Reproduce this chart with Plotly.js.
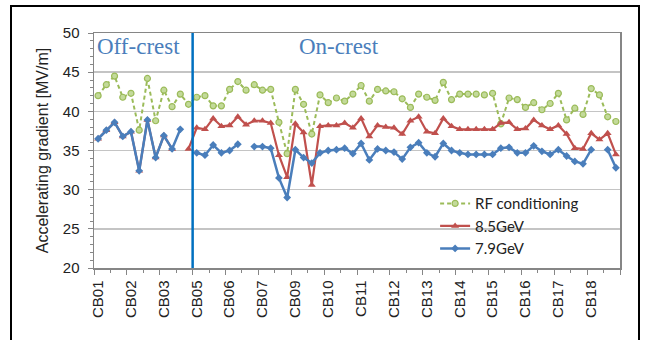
<!DOCTYPE html>
<html>
<head>
<meta charset="utf-8">
<script src="https://cdn.plot.ly/plotly-3.0.1.min.js"></script>
<style>
  html, body { margin:0; padding:0; background:#fff; }
  #wrap { position:relative; width:651px; height:340px; overflow:hidden; }
  #chart { width:651px; height:340px; }
  #frame { position:absolute; left:10px; top:5px; width:626px; height:400px; border:2px solid #000; pointer-events:none; }
</style>
</head>
<body>
<div id="wrap">
  <div id="chart"></div>
  <div id="frame"></div>
</div>
<script>
// Cryomodule labels (one label per group of 4 cavities)
const moduleLabels = ["CB01","CB02","CB03","CB05","CB06","CB07","CB09","CB10",
                      "CB11","CB12","CB13","CB14","CB15","CB16","CB17","CB18"];
const cavitiesPerLabel = 4;
const onCrestStartIndex = 11.5; // boundary between off-crest and on-crest data

const rfConditioning = [42.0,43.4,44.5,41.8,42.3,37.6,44.2,38.8,42.7,40.6,42.2,40.9,41.8,42.0,40.7,40.7,
  42.8,43.8,42.7,43.4,42.7,42.8,38.6,34.6,42.8,40.9,37.1,42.1,41.1,41.7,41.3,42.2,
  43.3,41.3,42.8,42.6,42.5,41.6,40.5,42.2,41.8,41.4,43.7,41.5,42.2,42.2,42.2,42.1,
  42.3,38.4,41.7,41.5,40.5,41.1,40.2,41.0,42.3,38.9,40.4,39.6,42.9,42.1,39.3,38.7];

const gev85 = [36.5,37.6,38.6,36.8,37.4,32.4,38.9,34.1,36.9,35.2,null,35.2,37.9,37.7,39.1,38.1,
  38.2,39.3,38.3,38.8,38.8,38.5,34.4,31.6,38.4,37.3,30.6,38.1,38.2,38.2,38.5,37.9,
  39.1,36.8,38.2,38.0,37.9,37.1,38.8,39.3,37.4,37.2,39.1,38.1,37.7,37.7,37.7,37.7,
  37.7,38.5,38.6,37.7,37.8,38.9,38.2,37.7,38.2,37.1,35.3,35.2,37.2,36.4,37.2,34.5];

const gev79 = [36.5,37.6,38.6,36.8,37.4,32.4,38.9,34.1,36.9,35.2,37.7,null,34.7,34.4,35.7,34.7,
  35.0,35.8,null,35.5,35.5,35.3,31.5,29.0,35.1,34.1,33.4,34.7,35.0,35.1,35.3,34.6,
  35.9,33.8,35.2,35.0,34.8,33.9,35.4,36.0,34.7,34.2,35.9,35.0,34.7,34.5,34.5,34.5,
  34.5,35.3,35.4,34.7,34.7,35.6,34.9,34.5,35.1,34.3,33.6,33.3,35.1,null,35.1,32.8];

const idx = rfConditioning.map((_, i) => i);
const nCav = rfConditioning.length;
const tickVals = [];
const tickText = [];
for (let k = 0; k <= moduleLabels.length; k++) {
  tickVals.push(k * cavitiesPerLabel - 0.5);
  tickText.push(k < moduleLabels.length ? moduleLabels[k] : "");
}

const traces = [
  { x: idx, y: rfConditioning, name: "RF conditioning", type: "scatter", mode: "lines+markers",
    line: { color: "#9bbb59", width: 2, dash: "4px,3px" },
    marker: { symbol: "circle", size: 6, color: "#c3da9a", line: { color: "#9bbb59", width: 1.2 } } },
  { x: idx, y: gev85, name: "8.5GeV", type: "scatter", mode: "lines+markers",
    line: { color: "#c0504d", width: 2.2 },
    marker: { symbol: "triangle-up", size: 7, color: "#c0504d" } },
  { x: idx, y: gev79, name: "7.9GeV", type: "scatter", mode: "lines+markers",
    line: { color: "#4a7ebb", width: 2.5 },
    marker: { symbol: "diamond", size: 6, color: "#4a7ebb" } }
];

const axisGrey = "#868686";
const layout = {
  width: 651, height: 340,
  margin: { l: 94, r: 31, t: 33, b: 72 },
  paper_bgcolor: "#fff", plot_bgcolor: "#fff",
  showlegend: true,
  font: { family: "Liberation Sans, Arial, sans-serif", color: "#222" },
  xaxis: {
    range: [-0.5, nCav - 0.5],
    tickmode: "array", tickvals: tickVals, ticktext: tickText,
    tickangle: -90, ticklabelshift: 4,
    ticks: "outside", ticklen: 5, tickcolor: axisGrey, tickwidth: 1,
    tickfont: { size: 15, family: "Liberation Sans, Arial, sans-serif", color: "#222" },
    showgrid: false, zeroline: false,
    showline: true, linecolor: axisGrey, linewidth: 1.5, mirror: true,
    minor: { tickmode: "linear", tick0: -0.5, dtick: 2, ticks: "outside", ticklen: 3, tickcolor: axisGrey, showgrid: false }
  },
  yaxis: {
    range: [20, 50], tick0: 20, dtick: 5,
    ticks: "outside", ticklen: 5, tickcolor: axisGrey, ticklabelstandoff: 5,
    tickfont: { size: 15, family: "Liberation Sans, Arial, sans-serif", color: "#222" },
    showgrid: true, gridcolor: "#c4c4c4", gridwidth: 1.5, zeroline: false,
    showline: true, linecolor: axisGrey, linewidth: 1.5, mirror: true,
    minor: { dtick: 1, ticks: "outside", ticklen: 3, tickcolor: axisGrey, showgrid: false },
    title: { text: "Accelerating gradient [MV/m]", standoff: 10,
             font: { size: 16, family: "Liberation Sans, Arial, sans-serif", color: "#222" } }
  },
  legend: {
    x: 0.6485, y: 0.344, xanchor: "left", yanchor: "top",
    bgcolor: "rgba(0,0,0,0)", borderwidth: 0, itemwidth: 30,
    font: { size: 15, family: "Lato, sans-serif", color: "#222" },
    tracegroupgap: 0
  },
  shapes: [
    { type: "rect", xref: "paper", yref: "paper", x0: 0.658, x1: 0.948, y0: 0.03, y1: 0.3,
      layer: "between", line: { width: 0 }, fillcolor: "#fff" },
    { type: "line", xref: "x", yref: "y", x0: onCrestStartIndex, x1: onCrestStartIndex, y0: 20, y1: 50,
      line: { color: "#0070c0", width: 2.5 } }
  ],
  annotations: [
    { text: "Off-crest", xref: "x", yref: "y", x: 4.9, y: 48.25, showarrow: false,
      font: { family: "Liberation Serif, Times New Roman, serif", size: 23, color: "#4a7ebb" } },
    { text: "On-crest", xref: "x", yref: "y", x: 29.3, y: 48.25, showarrow: false,
      font: { family: "Liberation Serif, Times New Roman, serif", size: 23, color: "#4a7ebb" } }
  ]
};

Plotly.newPlot("chart", traces, layout, { displayModeBar: false, staticPlot: true });
</script>
</body>
</html>
